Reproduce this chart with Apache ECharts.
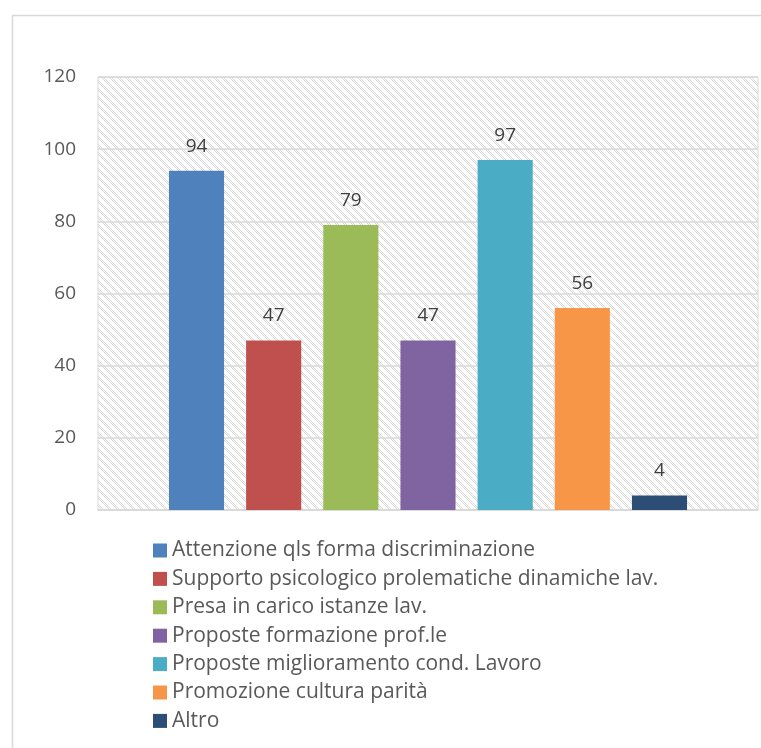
<!DOCTYPE html>
<html>
<head>
<meta charset="utf-8">
<script src="https://cdn.jsdelivr.net/npm/echarts@6/dist/echarts.min.js"></script>
<style>
  html, body { margin: 0; padding: 0; background: #fff; }
  #chart { width: 761px; height: 748px; }
</style>
</head>
<body>
<div id="chart"></div>
<script>
// Survey answers: one bar per item, each its own series so the legend lists them
const itemNames = [
  'Attenzione qls forma discriminazione',
  'Supporto psicologico prolematiche dinamiche lav.',
  'Presa in carico istanze lav.',
  'Proposte formazione prof.le',
  'Proposte miglioramento cond. Lavoro',
  'Promozione cultura parità',
  'Altro'
];
const itemValues = [94, 47, 79, 47, 97, 56, 4];
const itemColors = ['#4f81bd', '#c0504d', '#9bbb59', '#8064a2', '#4bacc6', '#f79646', '#2c4d75'];
const yTicks = { min: 0, max: 120, step: 20 };

// Light dotted diagonal hatch used as the plot background
function makeHatch() {
  const c = document.createElement('canvas');
  c.width = 8; c.height = 8;
  const g = c.getContext('2d');
  g.fillStyle = '#ffffff';
  g.fillRect(0, 0, 8, 8);
  g.fillStyle = '#d9d9d9';
  for (let y = 0; y < 8; y++) {
    for (let x = 0; x < 8; x++) {
      const d = ((x - y) % 8 + 8) % 8;
      if ((d === 0 || d === 2) && (x + y) % 2 === 0) g.fillRect(x, y, 1, 1);
    }
  }
  return c;
}

const chart = echarts.init(document.getElementById('chart'), null, { renderer: 'canvas' });
const FONT = '"Open Sans", "Noto Sans", sans-serif';

const series = itemNames.map((name, i) => ({
  name: name,
  type: 'bar',
  data: [itemValues[i]],
  itemStyle: { color: itemColors[i] },
  barGap: '40%',
  barCategoryGap: '21.5%',
  label: {
    show: true,
    position: 'top',
    distance: 15,
    color: '#404040',
    fontSize: 19,
    fontFamily: FONT
  }
}));

chart.setOption({
  animation: false,
  textStyle: { fontFamily: FONT },
  graphic: [{
    type: 'rect',
    left: 10, top: 13,
    shape: { width: 800, height: 800 },
    style: { fill: 'none', stroke: '#d9d9d9', lineWidth: 1.5 },
    silent: true,
    z: -10
  }],
  grid: {
    left: 98, right: 3, top: 77, bottom: 238,
    show: true,
    backgroundColor: { image: makeHatch(), repeat: 'repeat' },
    borderColor: '#d9d9d9',
    borderWidth: 1
  },
  legend: {
    orient: 'vertical',
    left: 148, top: 535,
    itemWidth: 14, itemHeight: 14,
    itemGap: 7.4,
    icon: 'rect',
    data: itemNames,
    textStyle: { color: '#595959', fontSize: 21, fontFamily: FONT }
  },
  xAxis: {
    type: 'category',
    data: [''],
    axisLine: { lineStyle: { color: '#d9d9d9', width: 1.5 } },
    axisTick: { show: false },
    axisLabel: { show: false }
  },
  yAxis: {
    type: 'value',
    min: yTicks.min, max: yTicks.max, interval: yTicks.step,
    axisLine: { show: false },
    axisTick: { show: false },
    axisLabel: { color: '#595959', fontSize: 19, fontFamily: FONT, margin: 22 },
    splitLine: { lineStyle: { color: '#d9d9d9', width: 1.5 } }
  },
  series: series
});
</script>
</body>
</html>
